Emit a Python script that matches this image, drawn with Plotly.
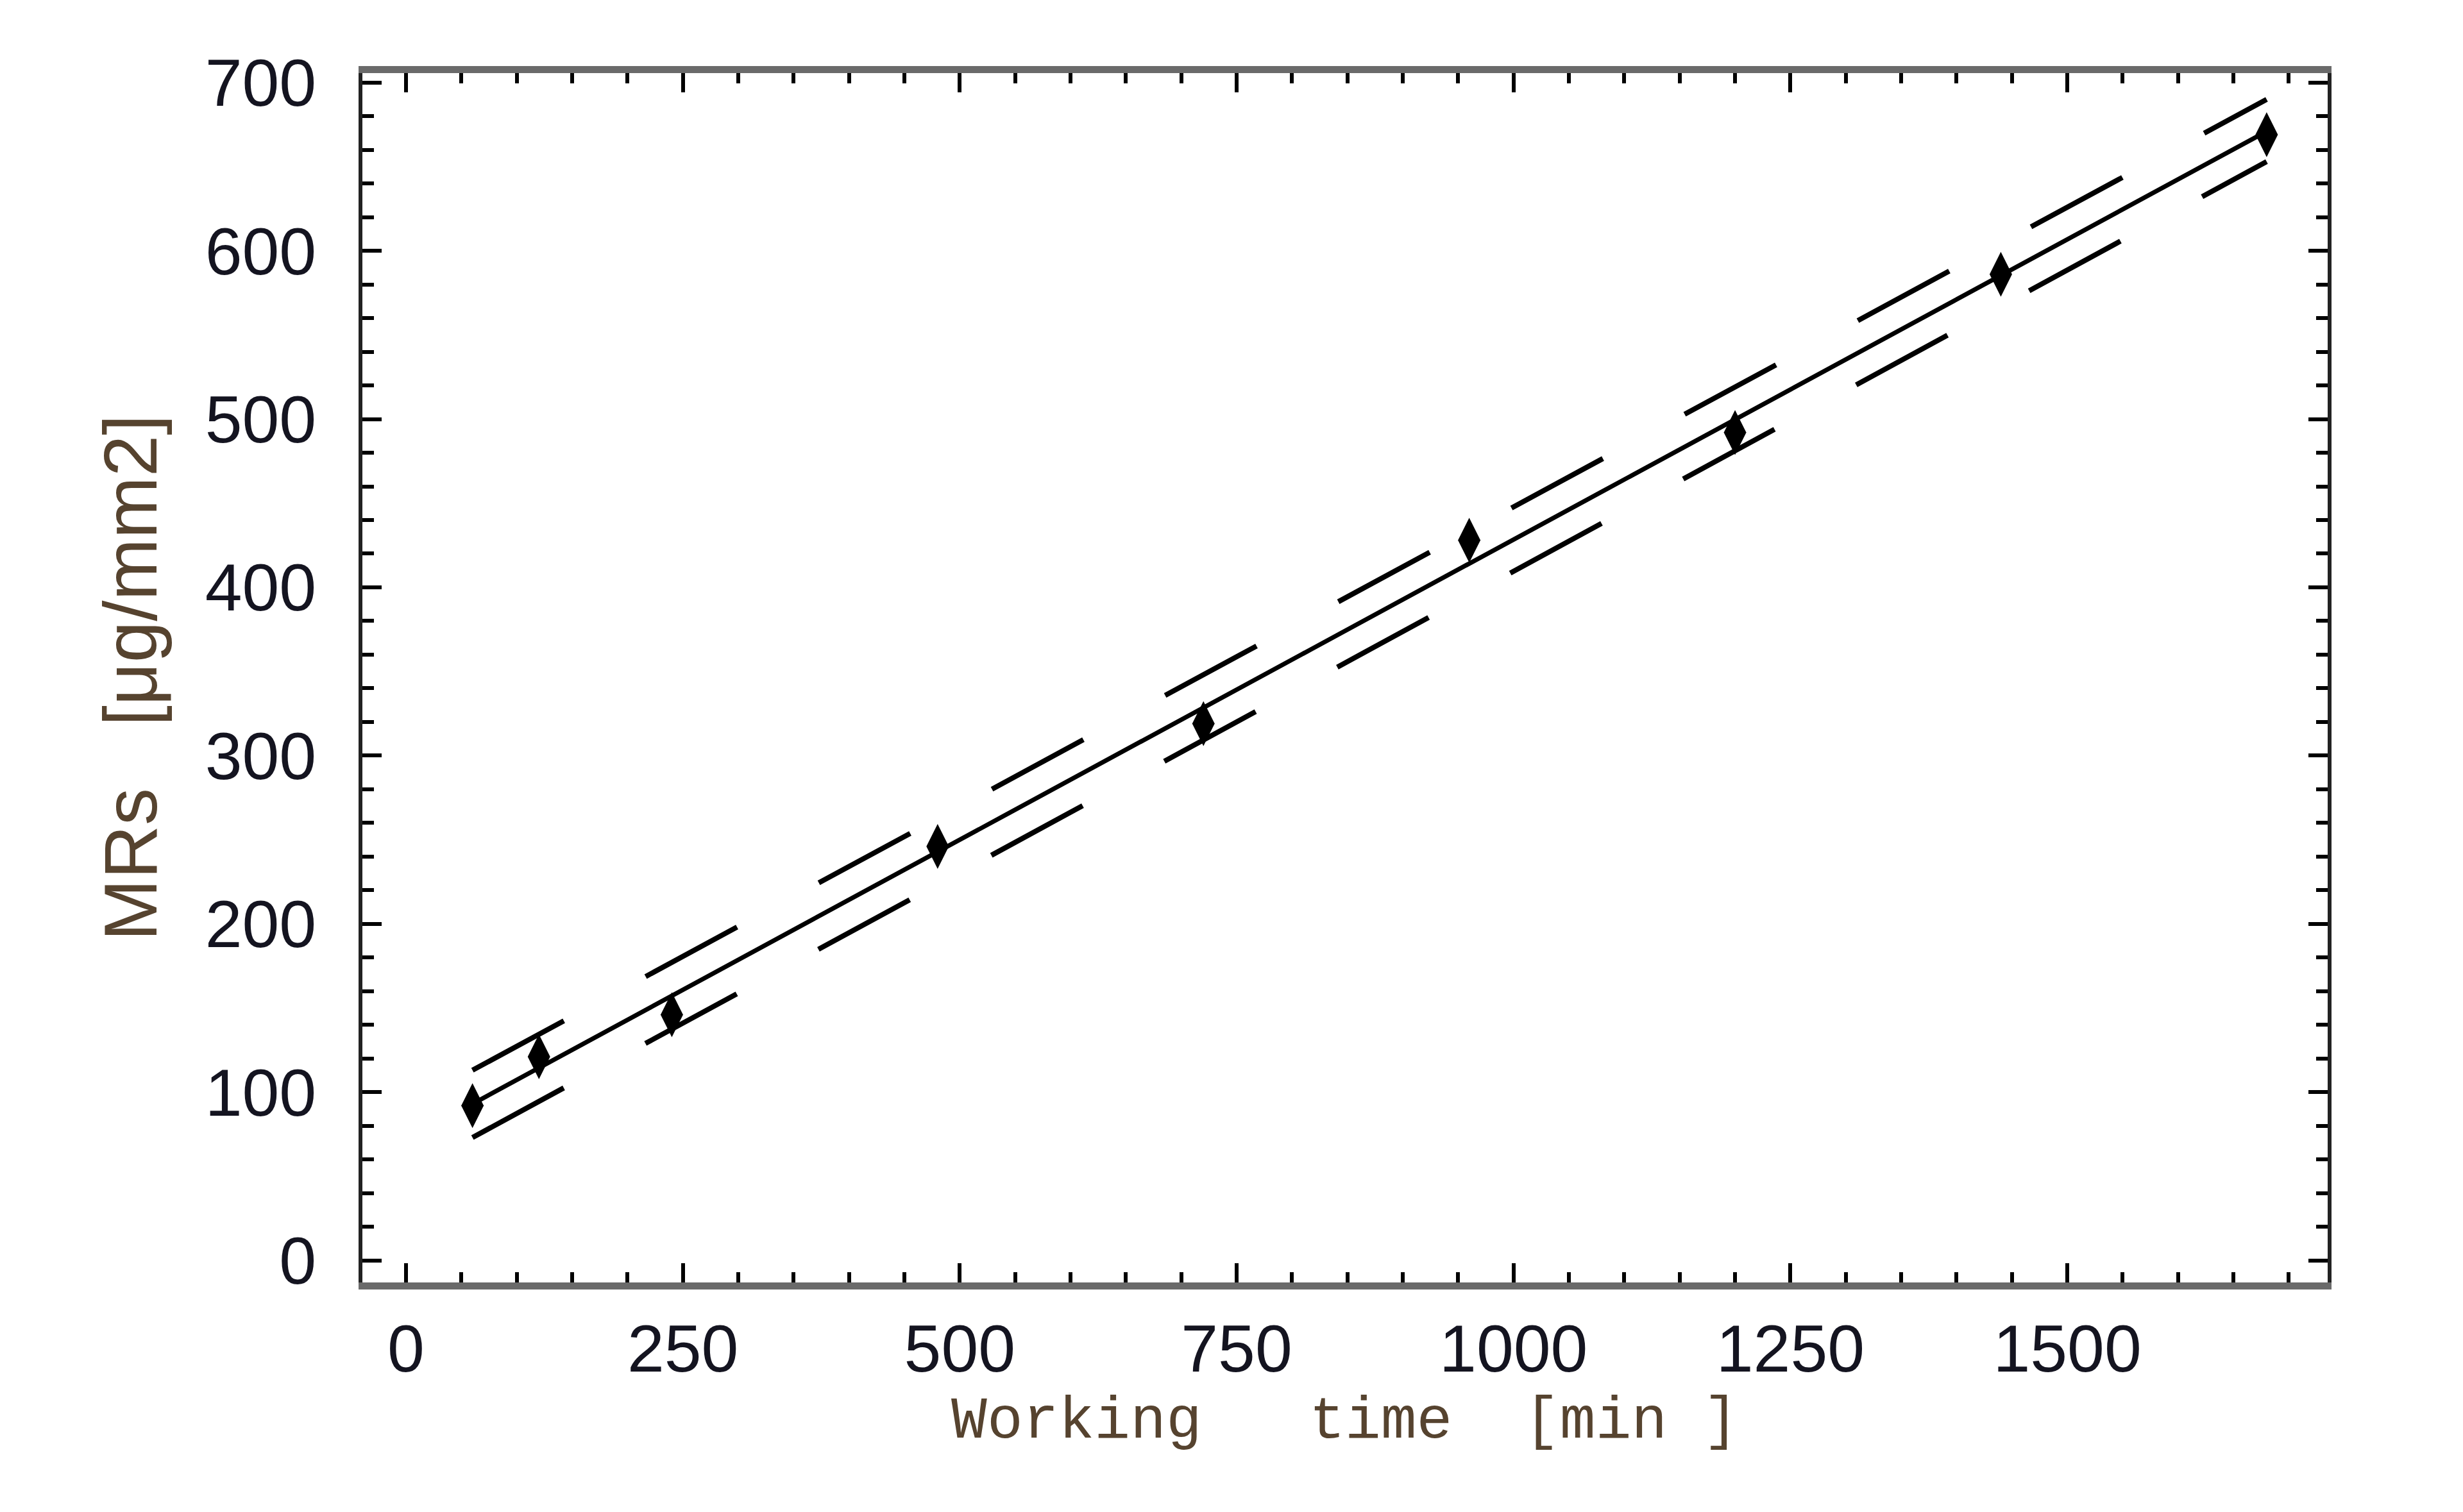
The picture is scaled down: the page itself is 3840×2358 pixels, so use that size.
import plotly.graph_objects as go

# Data
time_min = [60, 120, 240, 480, 720, 960, 1200, 1440, 1680]
mrs = [92, 121, 146, 246, 319, 428, 492, 586, 669]

fit_x = [60, 1680]
fit_y = [93, 671]
upper_y = [113, 690]
lower_y = [73, 653]

x_ticks = [0, 250, 500, 750, 1000, 1250, 1500]
y_ticks = [0, 100, 200, 300, 400, 500, 600, 700]

NB = "\u00a0"
x_title = "Working" + NB * 3 + "time" + NB * 2 + "[min" + NB + "]"
y_title = "MRs" + NB * 3 + "[μg/mm2]"

fig = go.Figure()

dash = "162px,145px"
for yy in (upper_y, lower_y):
    fig.add_trace(go.Scatter(x=fit_x, y=yy, mode="lines",
                             line=dict(color="black", width=8, dash=dash),
                             hoverinfo="skip", showlegend=False))

fig.add_trace(go.Scatter(x=fit_x, y=fit_y, mode="lines",
                         line=dict(color="black", width=7),
                         showlegend=False))

fig.add_trace(go.Scatter(x=time_min, y=mrs, mode="markers",
                         marker=dict(symbol="diamond-tall", size=50, color="black",
                                     line=dict(width=0)),
                         showlegend=False))

tick_font = dict(family="Liberation Sans, Arial, sans-serif", size=104, color="#141420")
title_color = "#56432f"

fig.update_layout(
    width=3840, height=2358,
    margin=dict(l=565, r=211, t=114, b=358),
    paper_bgcolor="white", plot_bgcolor="white",
    xaxis=dict(
        range=[-39.4, 1735.1],
        tickvals=x_ticks, ticktext=[str(v) for v in x_ticks],
        ticks="inside", ticklen=30, tickwidth=6, tickcolor="black",
        minor=dict(dtick=50, ticks="inside", ticklen=16, tickwidth=6, tickcolor="black"),
        showline=True, linewidth=11, linecolor="#6a6a6a", mirror="allticks",
        showgrid=False, zeroline=False,
        tickfont=tick_font, ticklabelstandoff=3,
        title=dict(text=x_title, standoff=22,
                   font=dict(family="Liberation Mono, Courier New, monospace", size=93,
                             color=title_color)),
    ),
    yaxis=dict(
        range=[-13.1, 705.6],
        tickvals=y_ticks, ticktext=[str(v) for v in y_ticks],
        ticks="inside", ticklen=30, tickwidth=6, tickcolor="black",
        minor=dict(dtick=20, ticks="inside", ticklen=18, tickwidth=6, tickcolor="black"),
        showline=True, linewidth=6, linecolor="#222222", mirror="allticks",
        showgrid=False, zeroline=False,
        tickfont=tick_font, ticklabelstandoff=45,
        title=dict(text=y_title, standoff=38,
                   font=dict(family="Liberation Sans, Arial, sans-serif", size=116,
                             color=title_color)),
    ),
)

fig.write_html("out.html")
